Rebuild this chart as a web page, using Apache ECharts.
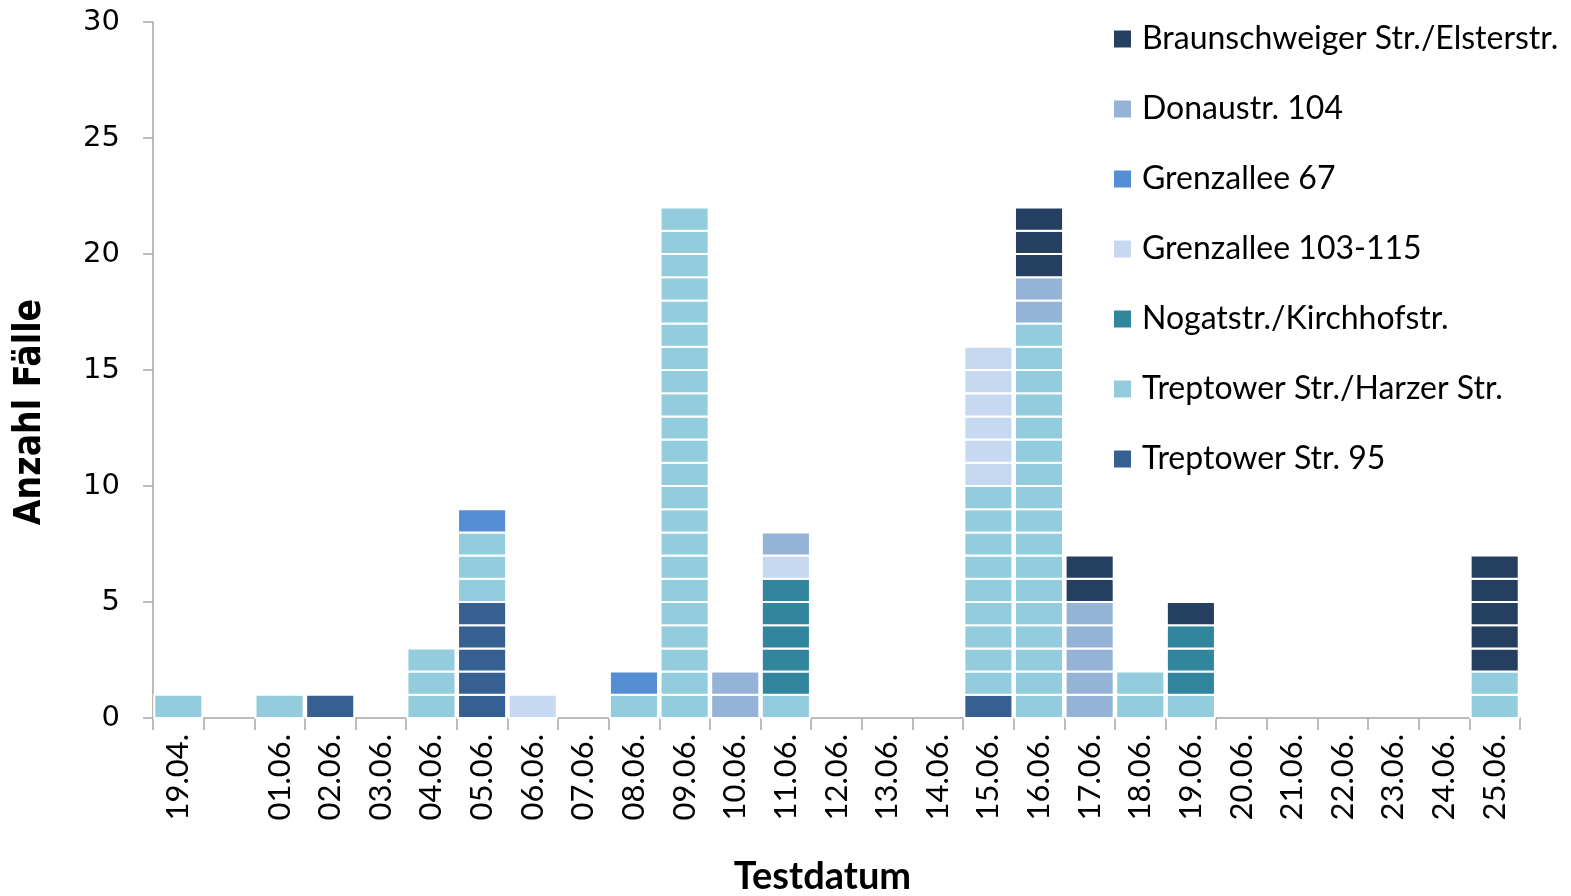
<!DOCTYPE html>
<html>
<head>
<meta charset="utf-8">
<script src="https://cdn.jsdelivr.net/npm/echarts@6/dist/echarts.min.js"></script>
<style>html,body{margin:0;padding:0;background:#fff}#c{width:1571px;height:896px}</style>
</head>
<body>
<div id="c"></div>
<script>
const categories = ["19.04.", "", "01.06.", "02.06.", "03.06.", "04.06.", "05.06.", "06.06.", "07.06.", "08.06.", "09.06.", "10.06.", "11.06.", "12.06.", "13.06.", "14.06.", "15.06.", "16.06.", "17.06.", "18.06.", "19.06.", "20.06.", "21.06.", "22.06.", "23.06.", "24.06.", "25.06."];
// values per category (same order as categories)
const treptower95   = [0,0,0,1,0,0,5,0,0,0,0,0,0,0,0,0,1,0,0,0,0,0,0,0,0,0,0];
const harzer        = [1,0,1,0,0,3,3,0,0,1,22,0,1,0,0,0,9,17,0,2,1,0,0,0,0,0,2];
const nogat         = [0,0,0,0,0,0,0,0,0,0,0,0,5,0,0,0,0,0,0,0,3,0,0,0,0,0,0];
const grenz103      = [0,0,0,0,0,0,0,1,0,0,0,0,1,0,0,0,6,0,0,0,0,0,0,0,0,0,0];
const grenz67       = [0,0,0,0,0,0,1,0,0,1,0,0,0,0,0,0,0,0,0,0,0,0,0,0,0,0,0];
const donau         = [0,0,0,0,0,0,0,0,0,0,0,2,1,0,0,0,0,2,5,0,0,0,0,0,0,0,0];
const braunschweig  = [0,0,0,0,0,0,0,0,0,0,0,0,0,0,0,0,0,3,2,0,1,0,0,0,0,0,5];
const yTicks = [0, 5, 10, 15, 20, 25, 30];

// stacking order bottom -> top
const stackDefs = [
  {name: "Treptower Str. 95", values: treptower95, color: "#366092"},
  {name: "Treptower Str./Harzer Str.", values: harzer, color: "#93CDDD"},
  {name: "Nogatstr./Kirchhofstr.", values: nogat, color: "#31859C"},
  {name: "Grenzallee 103-115", values: grenz103, color: "#C6D9F1"},
  {name: "Grenzallee 67", values: grenz67, color: "#558ED5"},
  {name: "Donaustr. 104", values: donau, color: "#95B3D7"},
  {name: "Braunschweiger Str./Elsterstr.", values: braunschweig, color: "#243F60"}
];
const legendOrder = stackDefs.map(d => d.name).slice().reverse();

const base = categories.map(() => 0);
const series = stackDefs.map(def => {
  const data = [];
  def.values.forEach((v, i) => {
    if (v > 0) { data.push([i, base[i], base[i] + v]); base[i] += v; }
  });
  return {
    type: 'custom',
    name: def.name,
    itemStyle: {color: def.color},
    encode: {x: 0, y: [1, 2]},
    data: data,
    renderItem: function (params, api) {
      const x = api.value(0), y0 = api.value(1), y1 = api.value(2);
      const w = api.size([1, 0])[0] * 0.95;
      const children = [];
      for (let k = y0; k < y1; k++) {
        const pt = api.coord([x, k + 1]);
        const pb = api.coord([x, k]);
        children.push({
          type: 'rect',
          shape: {x: pt[0] - w / 2, y: pt[1], width: w, height: pb[1] - pt[1]},
          style: {fill: def.color, stroke: '#ffffff', lineWidth: 2}
        });
      }
      return {type: 'group', children: children};
    }
  };
});

const chart = echarts.init(document.getElementById('c'), null, {renderer: 'canvas'});
chart.setOption({
  animation: false,
  backgroundColor: '#ffffff',
  grid: {left: 153, right: 51, top: 22, bottom: 178, containLabel: false, outerBoundsMode: 'none'},
  legend: {
    orient: 'vertical', left: 1109, top: 18,
    data: legendOrder, icon: 'rect', itemWidth: 17, itemHeight: 17, itemGap: 38,
    textStyle: {fontFamily: 'Lato', fontSize: 32, color: '#000', lineHeight: 32, padding: [0, 0, 0, 6]}
  },
  xAxis: {
    type: 'category', data: categories,
    axisLine: {lineStyle: {color: '#a6a6a6', width: 1.5}},
    axisTick: {show: true, alignWithLabel: false, length: 12, lineStyle: {color: '#a6a6a6', width: 1.5}},
    axisLabel: {rotate: 90, interval: 0, margin: 16, fontFamily: 'Lato', fontSize: 31, color: '#000'},
    name: 'Testdatum', nameLocation: 'middle', nameGap: 140,
    nameTextStyle: {fontFamily: 'Lato', fontWeight: 'bold', fontSize: 38, color: '#000', padding: [0, 28, 0, 0]}
  },
  yAxis: {
    type: 'value', min: yTicks[0], max: yTicks[yTicks.length - 1], interval: 5,
    splitLine: {show: false},
    axisLine: {show: true, lineStyle: {color: '#a6a6a6', width: 1.5}},
    axisTick: {show: true, length: 10, lineStyle: {color: '#a6a6a6', width: 1.5}},
    axisLabel: {margin: 33, fontFamily: 'DejaVu Sans', fontSize: 29, color: '#000'},
    name: 'Anzahl Fälle', nameLocation: 'middle', nameGap: 104,
    nameTextStyle: {fontFamily: 'DejaVu Sans Condensed', fontWeight: 'bold', fontSize: 37, color: '#000', padding: [0, 84, 0, 0]}
  },
  series: series
});
</script>
</body>
</html>
